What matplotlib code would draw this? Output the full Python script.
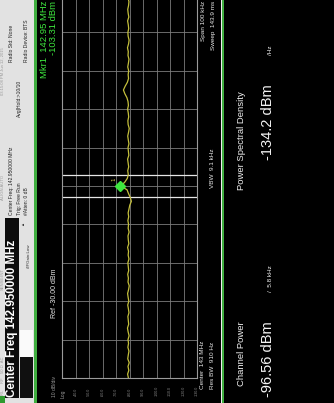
import numpy as np
import matplotlib
matplotlib.use("Agg")
import matplotlib.pyplot as plt
from matplotlib.patches import Rectangle

# frequency offsets from centre (kHz) and trace amplitude (dBm)
freq_khz = list(range(-50, 51))
trace_dbm = [
    -79.2, -78.6, -79.5, -78.9, -79.8, -78.7, -79.1, -79.6, -78.8, -79.3,
    -78.9, -79.7, -79.0, -78.5, -79.4, -79.1, -78.8, -79.6, -79.2, -78.7,
    -79.5, -79.0, -78.6, -79.3, -79.8, -78.9, -79.2, -78.7, -79.4, -79.1,
    -78.8, -79.6, -79.0, -79.3, -78.6, -79.5, -79.1, -78.9, -79.7, -79.0,
    -79.3, -78.8, -79.4, -79.0, -79.6, -80.2, -81.4, -80.6, -79.3, -78.2,
    -73.6, -76.5, -78.4, -79.1, -78.7, -79.4, -79.0, -78.6, -79.5, -79.2,
    -78.9, -79.6, -79.1, -78.7, -79.3, -79.8, -79.0, -78.8, -79.4, -79.1,
    -78.6, -79.2, -78.9, -78.1, -76.6, -75.5, -76.8, -78.4, -79.3, -79.0,
    -79.4, -78.7, -79.2, -79.6, -78.9, -79.1, -78.5, -79.3, -79.7, -79.0,
    -78.8, -79.4, -79.1, -78.6, -79.5, -79.0, -78.7, -79.3, -79.6, -78.9,
    -79.2,
]
ref_level = -30.0
db_per_div = 10
amp_ticks = [-30, -40, -50, -60, -70, -80, -90, -100, -110, -120, -130]
chan_bw_khz = 5.8
marker_khz = 0.0
marker_dbm = -72.6

W, H = 334, 403


def fx(x):
    return x / W


def fy(y):
    return 1 - y / H


def box(x0, y0, x1, y1, color, z=0):
    fig.patches.append(Rectangle((fx(x0), fy(y1)), (x1 - x0) / W, (y1 - y0) / H,
                                 transform=fig.transFigure, color=color, zorder=z, lw=0))


def rtext(x, y, s, size, color, va="bottom", weight="normal", alpha=1.0):
    fig.text(fx(x), fy(y), s, rotation=90, ha="center", va=va, fontsize=size,
             color=color, fontweight=weight, family="Liberation Sans", alpha=alpha)


fig = plt.figure(figsize=(W / 100, H / 100), dpi=100, facecolor="black")

# header panel
box(0, 0, 34, H, "#e2e2e2")
box(34, 0, 37, H, "#3fae3f")
box(5, 218, 19, 398, "#0c0c0c")
box(20, 330, 33, 357, "#fafafa")
box(20, 357, 33, 398, "#101010")
box(0, 396, 5, H, "#2e9a2e")
box(221, 0, 222, H, "#f0f0f0")
box(222, 0, 224, H, "#3fae3f")

rtext(3, 395, "RL      RF    50 \u03a9  AC", 3, "#9a9a9a")
rtext(3, 290, "SENSE:INT", 3, "#9a9a9a")
rtext(3, 200, "ALIGN AUTO", 3, "#9a9a9a")
rtext(3, 95, "03:15:08 PM Jun 12, 2015", 3, "#9a9a9a")
rtext(12, 397, "Center Freq 142.950000 MHz", 8.4, "white", weight="bold")
rtext(11, 215, "Center Freq: 142.950000 MHz", 3.6, "#222222")
rtext(19, 215, "Trig: Free Run", 3.6, "#222222")
rtext(27, 215, "#Atten: 0 dB", 3.6, "#222222")
rtext(19, 117, "Avg|Hold:>10/10", 3.6, "#222222")
rtext(12, 62, "Radio Std: None", 3.6, "#222222")
rtext(27, 62, "Radio Device: BTS", 3.6, "#222222")
rtext(23, 226, "\u25b2", 3, "#333333")
rtext(29, 268, "#IFGain:Low", 3.2, "#333333")

# marker readout and reference level
rtext(44, 1, "Mkr1  142.95 MHz", 6.8, "#3ee63e", va="top")
rtext(53, 1, "-103.31 dBm", 6.8, "#3ee63e", va="top")
rtext(55, 318, "Ref -30.00 dBm", 5, "#e8e8e8")
rtext(55, 397, "10 dB/div", 3.6, "#9a9a9a")
rtext(63, 398, "Log", 3.6, "#9a9a9a")

# trace axes: x = amplitude, y = frequency
ax = fig.add_axes([fx(62), fy(378), (197 - 62) / W, (378 + 6) / H])
ax.set_facecolor("black")
ax.set_xlim(ref_level, ref_level - 10 * db_per_div)
ax.set_ylim(-50, 50)
ax.set_xticks(amp_ticks)
ax.set_yticks(np.arange(-50, 51, 10))
ax.tick_params(length=0, labelbottom=False, labelleft=False)
ax.grid(True, color="#7c7c7c", lw=0.6)
for sp in ax.spines.values():
    sp.set_color("#9a9a9a")
    sp.set_linewidth(0.8)

for f in (-chan_bw_khz / 2, chan_bw_khz / 2):
    ax.axhline(f, color="#e6e6e6", lw=0.9)
ax.plot(trace_dbm, freq_khz, color="#c4bf3c", lw=0.9)
ax.plot([marker_dbm], [marker_khz], marker="D", ms=5, color="#3ee63e", mec="#3ee63e")
ax.text(marker_dbm + 4, marker_khz + 1.8, "1", rotation=90, fontsize=4,
        color="#e0d050", ha="center", va="center")

for v in amp_ticks[1:]:
    xp = 62 + (ref_level - v) / db_per_div * 13.5
    rtext(xp, 396, f"{v:.1f}", 2.6, "#8a8a8a")

# bottom annotations
rtext(203, 389, "Center  143 MHz", 4.6, "#e8e8e8")
rtext(213, 389, "Res BW  910 Hz", 4.6, "#e8e8e8")
rtext(213, 188, "VBW  9.1 kHz", 4.6, "#e8e8e8")
rtext(203, 1, "Span 100 kHz", 4.6, "#e8e8e8", va="top")
rtext(213, 1, "Sweep  143.9 ms", 4.6, "#e8e8e8", va="top")

# result panel
rtext(241, 386, "Channel Power", 6.8, "#eeeeee")
rtext(268, 397, "-96.56 dBm", 10.5, "#f4f4f4")
rtext(270, 292, "/  5.8 kHz", 4.6, "#f4f4f4")
rtext(241, 190, "Power Spectral Density", 6.8, "#eeeeee")
rtext(268, 160, "-134.2 dBm", 10.5, "#f4f4f4")
rtext(270, 55, "/Hz", 4.6, "#f4f4f4")

fig.savefig("out.png", dpi=100, facecolor="black")
